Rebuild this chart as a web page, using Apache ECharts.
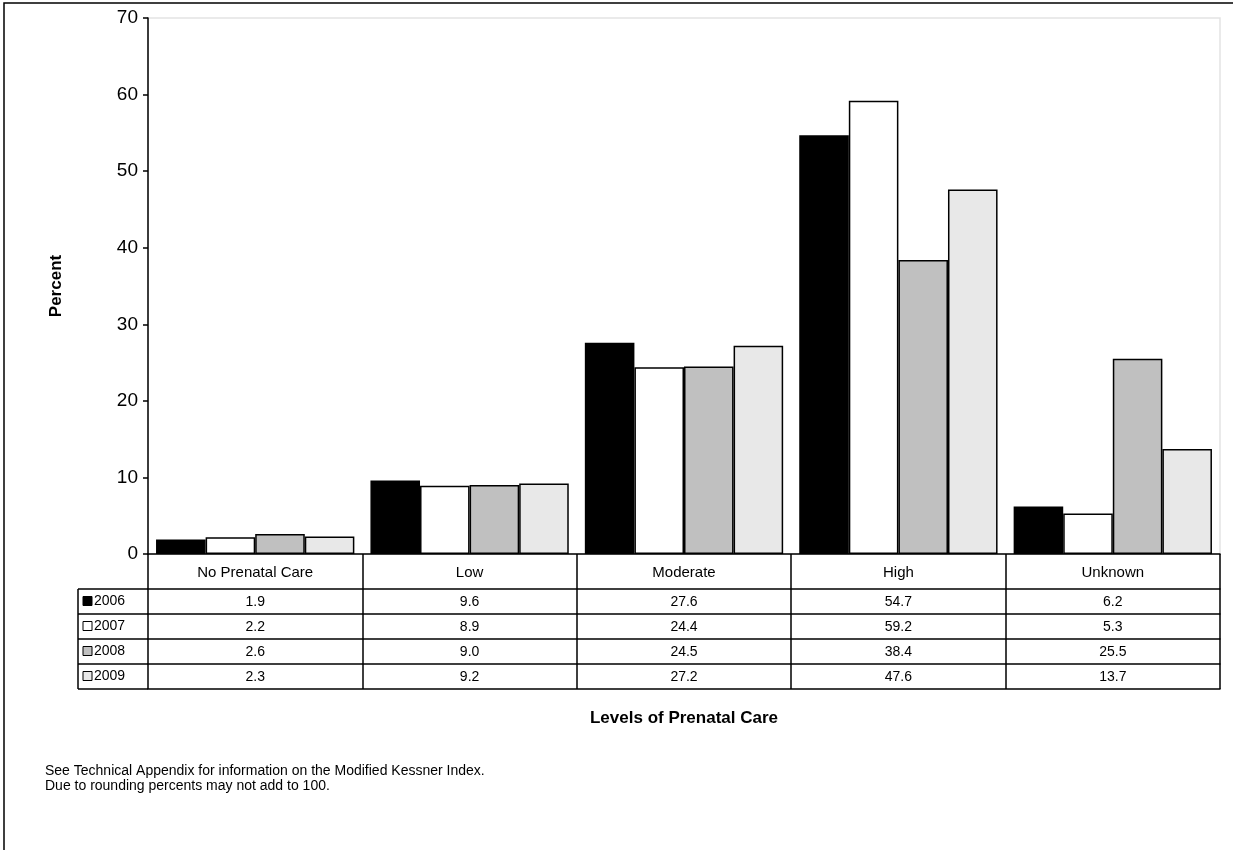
<!DOCTYPE html>
<html>
<head>
<meta charset="utf-8">
<script src="https://cdn.jsdelivr.net/npm/echarts@6/dist/echarts.min.js"></script>
<style>
  html, body { margin: 0; padding: 0; background: #fff; }
  #chart { width: 1233px; height: 850px; }
</style>
</head>
<body>
<div id="chart"></div>
<script>
const categories = ["No Prenatal Care", "Low", "Moderate", "High", "Unknown"];
const years = ["2006", "2007", "2008", "2009"];
const values2006 = [1.9, 9.6, 27.6, 54.7, 6.2];
const values2007 = [2.2, 8.9, 24.4, 59.2, 5.3];
const values2008 = [2.6, 9.0, 24.5, 38.4, 25.5];
const values2009 = [2.3, 9.2, 27.2, 47.6, 13.7];
const yTicks = [0, 10, 20, 30, 40, 50, 60, 70];

const allValues = [values2006, values2007, values2008, values2009];
const colors = ["#000000", "#ffffff", "#c0c0c0", "#e8e8e8"];
const font = "Liberation Sans, Arial, sans-serif";

// layout
const gridLeft = 148, gridRight = 13, gridTop = 18, gridBottom = 296;
const headerH = 35, rowH = 25;
const axisY = 850 - gridBottom;

const chart = echarts.init(document.getElementById("chart"));

let xAxes = [{
  type: "category",
  data: categories,
  position: "bottom",
  axisLine: { lineStyle: { color: "#000", width: 1.5 } },
  axisTick: { show: true, length: headerH, lineStyle: { color: "#000", width: 1.5 } },
  axisLabel: { color: "#000", fontSize: 15, fontFamily: font, margin: 11, interval: 0 }
}];
allValues.forEach((vals, i) => {
  xAxes.push({
    type: "category",
    data: vals.map(v => v.toFixed(1)),
    position: "bottom",
    offset: headerH + i * rowH,
    axisLine: { lineStyle: { color: "#000", width: 1.5 } },
    axisTick: { show: true, length: rowH, lineStyle: { color: "#000", width: 1.5 } },
    axisLabel: { color: "#000", fontSize: 14, fontFamily: font, margin: 6, interval: 0 }
  });
});
xAxes.push({
  type: "category",
  data: categories,
  position: "bottom",
  offset: headerH + years.length * rowH,
  axisLine: { lineStyle: { color: "#000", width: 1.5 } },
  axisTick: { show: false },
  axisLabel: { show: false },
  name: "Levels of Prenatal Care",
  nameLocation: "middle",
  nameGap: 21,
  nameTextStyle: { color: "#000", fontSize: 17, fontWeight: "bold", fontFamily: font }
});

// left column of the table (legend keys)
const graphics = [];
const colLeft = 78;
const tableTop = axisY + headerH;
for (let i = 0; i <= years.length; i++) {
  graphics.push({
    type: "line",
    shape: { x1: colLeft, y1: tableTop + i * rowH, x2: gridLeft, y2: tableTop + i * rowH },
    style: { stroke: "#000", lineWidth: 1.5 }
  });
}
graphics.push({
  type: "line",
  shape: { x1: colLeft, y1: tableTop, x2: colLeft, y2: tableTop + years.length * rowH },
  style: { stroke: "#000", lineWidth: 1.5 }
});
years.forEach((y, i) => {
  const cy = tableTop + i * rowH + rowH / 2;
  graphics.push({
    type: "rect",
    shape: { x: colLeft + 5, y: cy - 5, width: 9, height: 9 },
    style: { fill: colors[i], stroke: "#000", lineWidth: 1 }
  });
  graphics.push({
    type: "text",
    x: colLeft + 16, y: cy,
    style: { text: y, fill: "#000", font: "14px " + font, verticalAlign: "middle" }
  });
});

chart.setOption({
  animation: false,
  backgroundColor: "#fff",
  title: {
    text: "See Technical Appendix for information on the Modified Kessner Index.\nDue to rounding percents may not add to 100.",
    left: 40,
    top: 759,
    textStyle: { color: "#000", fontSize: 14, fontWeight: "normal", fontFamily: font, lineHeight: 15 }
  },
  grid: {
    left: gridLeft, right: gridRight, top: gridTop, bottom: gridBottom,
    show: true, borderColor: "#e3e3e3", borderWidth: 1.5
  },
  xAxis: xAxes,
  yAxis: {
    type: "value",
    min: yTicks[0],
    max: yTicks[yTicks.length - 1],
    interval: 10,
    axisLine: { show: true, lineStyle: { color: "#000", width: 1.5 } },
    axisTick: { show: true, length: 5, lineStyle: { color: "#000", width: 1.5 } },
    axisLabel: { color: "#000", fontSize: 19, fontFamily: font, margin: 10 },
    splitLine: { show: false },
    name: "Percent",
    nameLocation: "middle",
    nameGap: 83,
    nameTextStyle: { color: "#000", fontSize: 17, fontWeight: "bold", fontFamily: font }
  },
  series: allValues.map((vals, i) => ({
    name: years[i],
    type: "bar",
    data: vals,
    xAxisIndex: 0,
    barGap: 0,
    barCategoryGap: "7.5%",
    itemStyle: { color: colors[i], borderColor: "#000", borderWidth: 1.5 }
  })),
  graphic: [
    {
      type: "rect",
      shape: { x: 4, y: 3, width: 1240, height: 860 },
      style: { fill: "none", stroke: "#000", lineWidth: 1.5 },
      silent: true
    }
  ].concat(graphics)
});
</script>
</body>
</html>
